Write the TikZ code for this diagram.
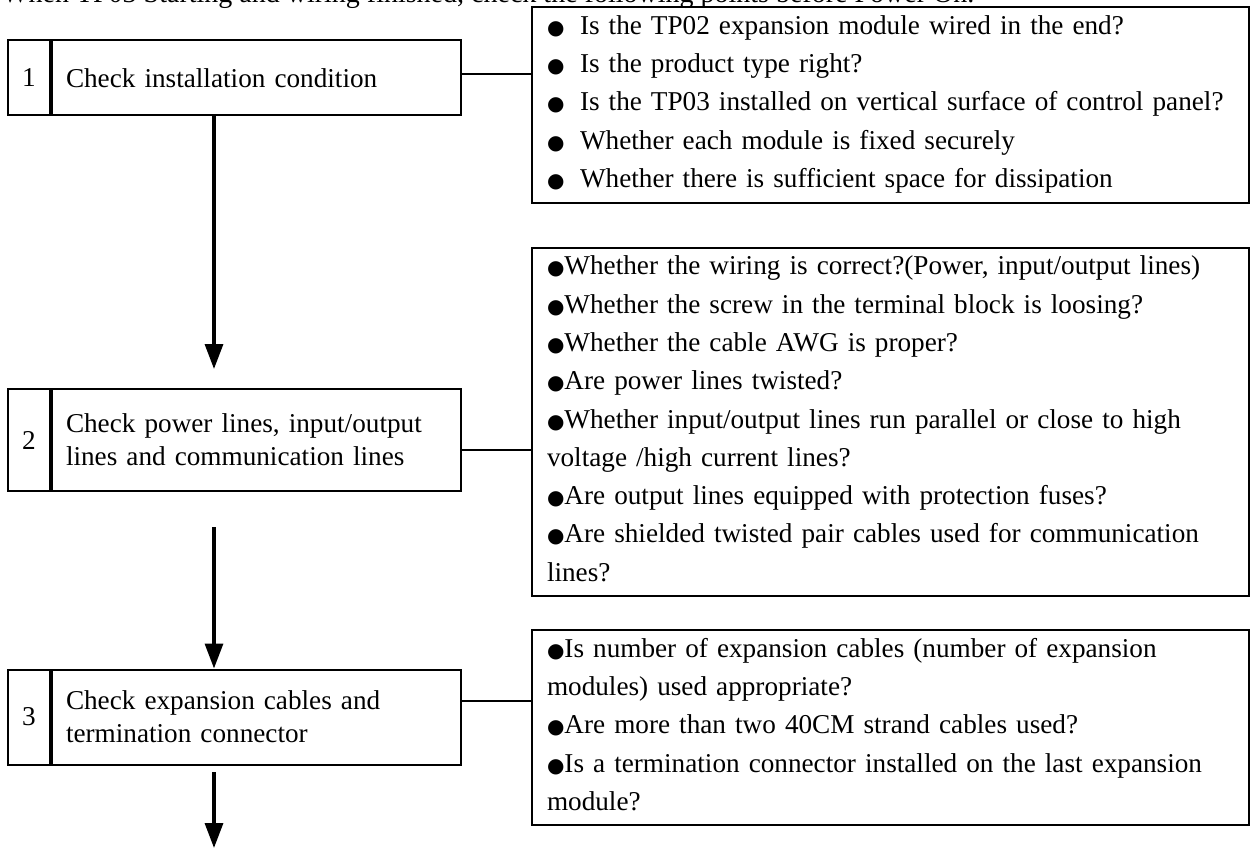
\documentclass[tikz,border=0pt]{standalone}
\usepackage{fontspec}
\setmainfont{Liberation Serif}
\newfontfamily\dotfont{DejaVu Sans}
\usetikzlibrary{arrows.meta, positioning, calc}

\newcommand{\bulletmark}{{\dotfont\fontsize{20}{20}\selectfont ●}}
\newcommand{\listdot}{\makebox[33pt][l]{\bulletmark}}
\newcommand{\padstrut}{\rule[-7pt]{0pt}{7pt}}

\begin{document}
\begin{tikzpicture}[x=1pt, y=-1pt,
    numcell/.style={draw, line width=2pt, minimum width=42pt, inner sep=0pt,
        font=\fontsize{27.2}{33}\selectfont},
    stepcell/.style={draw, line width=2pt, minimum width=409pt, text width=381pt,
        inner xsep=14pt, inner ysep=0pt, align=left, font=\fontsize{27.2}{33}\selectfont},
    notebox/.style={draw, line width=2pt, anchor=north west, text width=687pt,
        inner xsep=15pt, inner ysep=8pt, align=left,
        font=\fontsize{27.2}{38.3}\selectfont},
    flow/.style={line width=3.3pt, -{Triangle[width=18pt, length=25pt]}},
    link/.style={line width=1.8pt}]
    \useasboundingbox (0,0) rectangle (1253,848);

    % heading line, cut at the top edge
    \begin{scope}
        \clip (0,0) rectangle (1253,848);
        \node[anchor=base west, inner sep=0pt, font=\fontsize{28}{33}\selectfont] (head) at (2,3)
            {When TP03 Starting and wiring finished, check the following points before Power On.};
    \end{scope}

    % step 1
    \node[numcell, minimum height=75pt] (n1) at (29,78) {1};
    \node[stepcell, minimum height=75pt, right=0pt of n1] (s1) {Check installation condition};
    \node[notebox] (r1) at (531,6.5) {%
        \listdot Is the TP02 expansion module wired in the end?\\
        \listdot Is the product type right?\\
        \listdot Is the TP03 installed on vertical surface of control panel?\\
        \listdot Whether each module is fixed securely\\
        \listdot Whether there is sufficient space for dissipation\padstrut};

    % step 2
    \node[numcell, minimum height=102pt] (n2) at (29,440) {2};
    \node[stepcell, minimum height=102pt, right=0pt of n2] (s2)
        {Check power lines, input/output\\lines and communication lines};
    \node[notebox] (r2) at (531,247) {%
        \bulletmark Whether the wiring is correct?(Power, input/output lines)\\
        \bulletmark Whether the screw in the terminal block is loosing?\\
        \bulletmark Whether the cable AWG is proper?\\
        \bulletmark Are power lines twisted?\\
        \bulletmark Whether input/output lines run parallel or close to high\\
        voltage /high current lines?\\
        \bulletmark Are output lines equipped with protection fuses?\\
        \bulletmark Are shielded twisted pair cables used for communication\\
        lines?\padstrut};

    % step 3
    \node[numcell, minimum height=95pt] (n3) at (29,717) {3};
    \node[stepcell, minimum height=95pt, right=0pt of n3] (s3)
        {Check expansion cables and\\termination connector};
    \node[notebox] (r3) at (531,629) {%
        \bulletmark Is number of expansion cables (number of expansion\\
        modules) used appropriate?\\
        \bulletmark Are more than two 40CM strand cables used?\\
        \bulletmark Is a termination connector installed on the last expansion\\
        module?\padstrut};

    % side links
    \coordinate (j1) at (531,74);
    \coordinate (j2) at (531,450);
    \coordinate (j3) at (531,701);
    \draw[link] (j1 -| s1.east) -- (j1 -| r1.west);
    \draw[link] (j2 -| s2.east) -- (j2 -| r2.west);
    \draw[link] (j3 -| s3.east) -- (j3 -| r3.west);

    % flow arrows
    \coordinate (axis) at (214,0);
    \coordinate (a1) at (214,369);
    \coordinate (a2) at (214,527);
    \coordinate (a3) at (214,772);
    \coordinate (a3e) at (214,848);
    \draw[flow] (axis |- s1.south) -- (a1);
    \draw[flow] (a2) -- (a2 |- s3.north);
    \draw[flow] (a3) -- (a3e);
\end{tikzpicture}
\end{document}
